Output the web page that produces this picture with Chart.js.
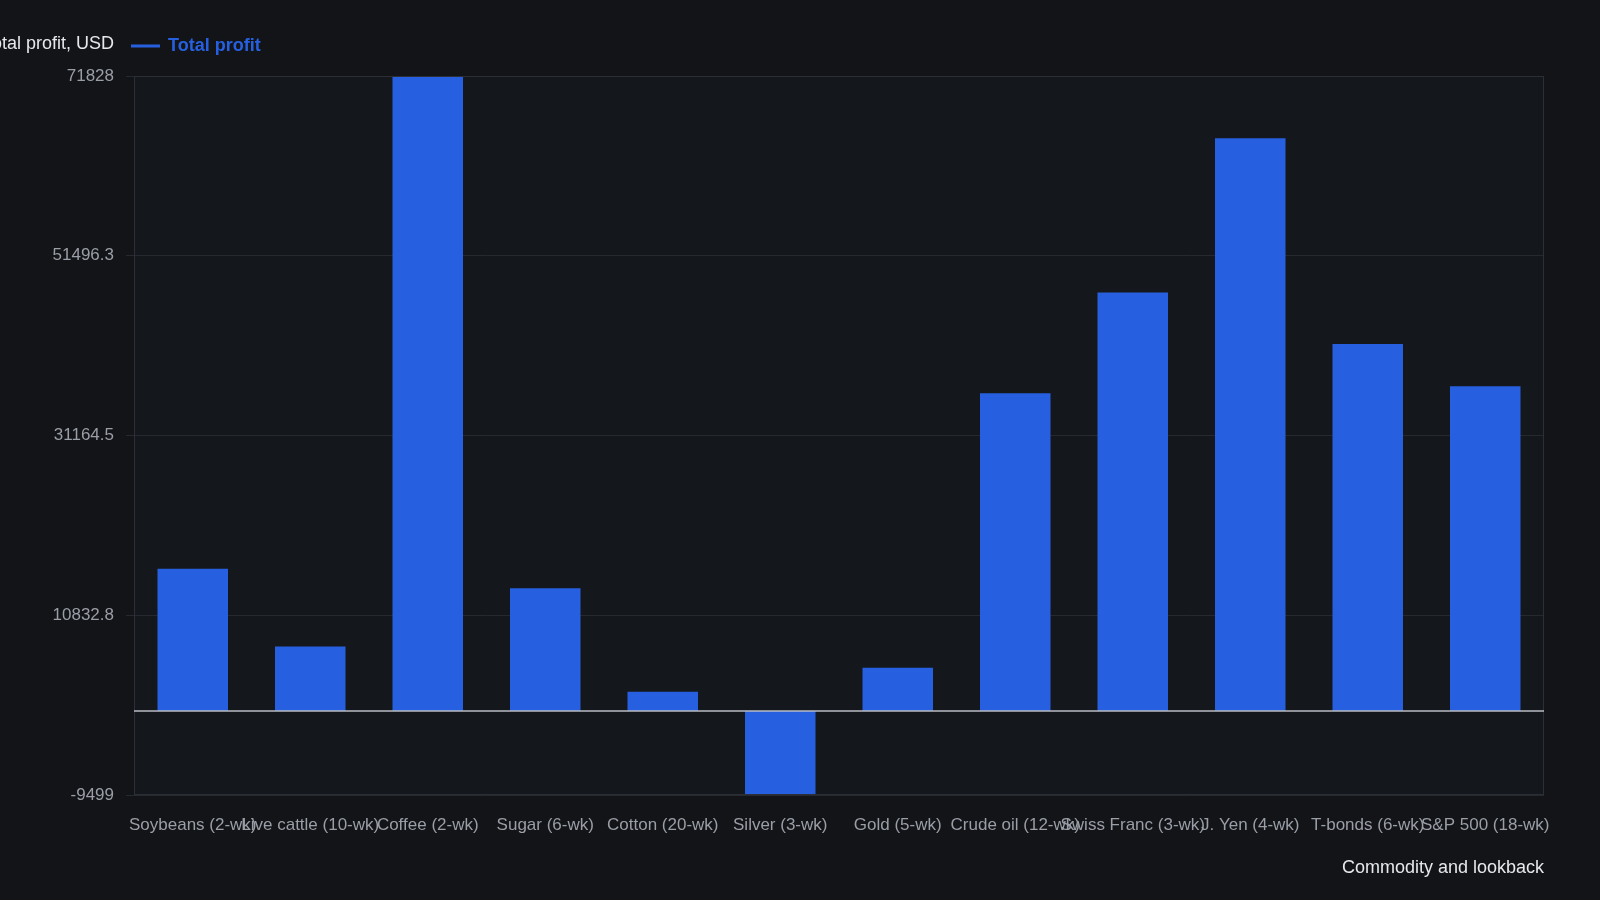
<!DOCTYPE html>
<html><head><meta charset="utf-8">
<script src="https://cdn.jsdelivr.net/npm/chart.js@4"></script>
<style>html,body{margin:0;background:#121418;}#w{width:1600px;height:900px;}</style>
</head><body><div id="w"><canvas id="c"></canvas></div>
<script>
const categories = ["Soybeans (2-wk)","Live cattle (10-wk)","Coffee (2-wk)","Sugar (6-wk)","Cotton (20-wk)","Silver (3-wk)","Gold (5-wk)","Crude oil (12-wk)","Swiss Franc (3-wk)","J. Yen (4-wk)","T-bonds (6-wk)","S&P 500 (18-wk)"];
const totalProfit = [16080, 7300, 71828, 13900, 2170, -9499, 4900, 35930, 47330, 64790, 41520, 36730];
const yTicks = [-9499, 10832.8, 31164.5, 51496.3, 71828];
const seriesName = "Total profit";
const yTitle = "Total profit, USD";
const xTitle = "Commodity and lookback";
const blue = "#2660e0";
const deco = {
  id:'deco',
  beforeDraw(c){const x=c.ctx;x.save();x.fillStyle='#121418';x.fillRect(0,0,c.width,c.height);
    const a=c.chartArea;x.fillStyle='#14171b';x.fillRect(a.left,a.top,a.width,a.height);x.restore();},
  afterDraw(c){const x=c.ctx,a=c.chartArea;x.save();
    x.strokeStyle='#2c3036';x.lineWidth=1;x.strokeRect(a.left+0.5,a.top+0.5,a.width-1,a.height-1);
    const y0=c.scales.y.getPixelForValue(0);x.strokeStyle='#b8bcc4';x.lineWidth=1.5;
    x.beginPath();x.moveTo(a.left,y0);x.lineTo(a.right,y0);x.stroke();
    x.font='18px "Liberation Sans", Arial, sans-serif';x.fillStyle='#e6e8ec';x.textAlign='right';x.textBaseline='middle';
    x.fillText(yTitle,114,44);
    x.strokeStyle=blue;x.lineWidth=3;x.beginPath();x.moveTo(131,46);x.lineTo(160,46);x.stroke();
    x.font='bold 18px "Liberation Sans", Arial, sans-serif';x.fillStyle=blue;x.textAlign='left';
    x.fillText(seriesName,168,46);x.restore();}
};
new Chart(document.getElementById('c'),{
  type:'bar',
  data:{labels:categories,datasets:[{label:seriesName,data:totalProfit,backgroundColor:blue,barPercentage:0.6,categoryPercentage:1}]},
  options:{responsive:true,maintainAspectRatio:false,animation:false,
    layout:{padding:{top:76,right:56,left:0,bottom:17}},
    plugins:{legend:{display:false},tooltip:{enabled:false}},
    scales:{
      x:{grid:{display:false},border:{display:false},
        ticks:{color:'#9a9ea6',font:{size:17,family:'"Liberation Sans", Arial'},maxRotation:0,minRotation:0,autoSkip:false,padding:12},
        title:{display:true,text:xTitle,align:'end',color:'#e6e8ec',padding:{top:10,bottom:4},font:{size:18,family:'"Liberation Sans", Arial'}}},
      y:{min:-9499,max:71828,afterBuildTicks(s){s.ticks=yTicks.map(v=>({value:v}));},
        grid:{color:'#262a30'},border:{display:false},
        ticks:{color:'#9a9ea6',font:{size:17,family:'"Liberation Sans", Arial'},callback:v=>String(v),padding:12},
        afterFit(s){s.width=134;}}
    }},
  plugins:[deco]
});
</script></body></html>
